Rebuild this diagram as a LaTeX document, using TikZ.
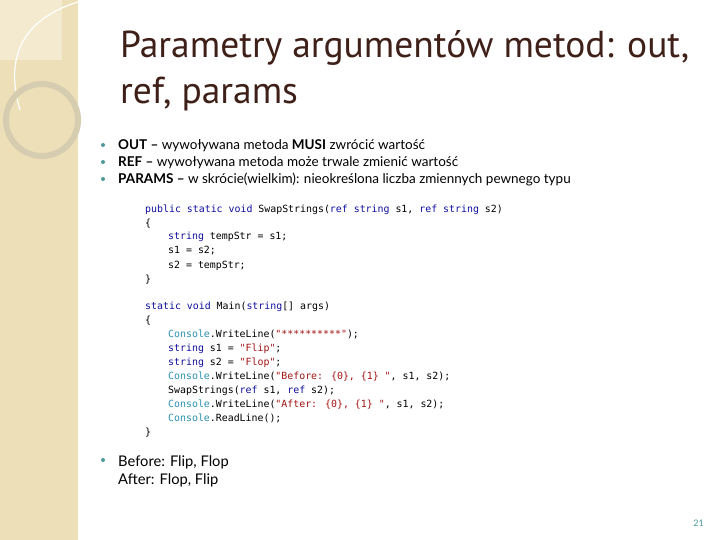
\documentclass[tikz,border=0pt]{standalone}
\usepackage{fontspec}
\setmainfont{Lato}
\newfontfamily\codefont{DejaVu Sans Mono}
\newfontfamily\titlefont{PT Sans}
\definecolor{strip}{HTML}{EDDFB8}
\definecolor{stripl}{HTML}{F4EAD0}
\definecolor{ring}{HTML}{D6CCB0}
\definecolor{titlec}{HTML}{3F2019}
\definecolor{kw}{HTML}{1010A0}
\definecolor{strc}{HTML}{A31515}
\definecolor{cls}{HTML}{2B91AF}
\definecolor{bul}{HTML}{4F9A9A}
\begin{document}
\begin{tikzpicture}[x=1pt,y=-1pt,
  codeline/.style={anchor=base west,inner sep=0pt,font=\codefont\fontsize{9.9}{11}\selectfont},
  bulline/.style={anchor=base west,inner sep=0pt,font=\fontsize{13.5}{15}\selectfont},
  dot/.style={circle,fill=bul,inner sep=0pt,minimum size=4pt}]
\useasboundingbox (0,0) rectangle (720,540);
\fill[white] (0,0) rectangle (720,540);
\fill[strip] (0,0) rectangle (78,540);
\fill[stripl] (0,0) rectangle (62,60);
\draw[white,line width=1.2pt] (78,2) .. controls (20,20) and (5,60) .. (20,110);
\draw[ring,line width=6pt] (42,120) circle (36);
\node[anchor=base west,inner sep=0pt,text=titlec,font=\titlefont\fontsize{37.5}{48}\selectfont] (t1) at (120,58) {Parametry argumentów metod: out,};
\node[anchor=base west,inner sep=0pt,text=titlec,font=\titlefont\fontsize{37.5}{48}\selectfont] (t2) at (120,104) {ref, params};
\node[dot] (d1) at (103,145) {};
\node[dot] (d2) at (103,162) {};
\node[dot] (d3) at (103,179) {};
\node[bulline] (b1) at (118,150) {\textbf{OUT –} wywoływana metoda \textbf{MUSI} zwrócić wartość};
\node[bulline] (b2) at (118,167) {\textbf{REF –} wywoływana metoda może trwale zmienić wartość};
\node[bulline] (b3) at (118,184) {\textbf{PARAMS –} w skrócie(wielkim): nieokreślona liczba zmiennych pewnego typu};
\node[codeline] (c1) at (145,212) {\textcolor{kw}{public static void} SwapStrings(\textcolor{kw}{ref string} s1, \textcolor{kw}{ref string} s2)};
\node[codeline] (c2) at (145,226) {\{};
\node[codeline] (c3) at (168,240) {\textcolor{kw}{string} tempStr = s1;};
\node[codeline] (c4) at (168,254) {s1 = s2;};
\node[codeline] (c5) at (168,268) {s2 = tempStr;};
\node[codeline] (c6) at (145,282) {\}};
\node[codeline] (c7) at (145,309) {\textcolor{kw}{static void} Main(\textcolor{kw}{string}[] args)};
\node[codeline] (c8) at (145,323) {\{};
\node[codeline] (c9) at (168,337) {\textcolor{cls}{Console}.WriteLine(\textcolor{strc}{"**********"});};
\node[codeline] (c10) at (168,351) {\textcolor{kw}{string} s1 = \textcolor{strc}{"Flip"};};
\node[codeline] (c11) at (168,365) {\textcolor{kw}{string} s2 = \textcolor{strc}{"Flop"};};
\node[codeline] (c12) at (168,379) {\textcolor{cls}{Console}.WriteLine(\textcolor{strc}{"Before: \{0\}, \{1\} "}, s1, s2);};
\node[codeline] (c13) at (168,393) {SwapStrings(\textcolor{kw}{ref} s1, \textcolor{kw}{ref} s2);};
\node[codeline] (c14) at (168,407) {\textcolor{cls}{Console}.WriteLine(\textcolor{strc}{"After: \{0\}, \{1\} "}, s1, s2);};
\node[codeline] (c15) at (168,421) {\textcolor{cls}{Console}.ReadLine();};
\node[codeline] (c16) at (145,435) {\}};
\node[dot] (d4) at (103,460) {};
\node[anchor=base west,inner sep=0pt,font=\fontsize{14.7}{17}\selectfont] (a1) at (118,466) {Before: Flip, Flop};
\node[anchor=base west,inner sep=0pt,font=\fontsize{14.7}{17}\selectfont] (a2) at (118,484) {After: Flop, Flip};
\node[anchor=base east,inner sep=0pt,text=bul,font=\fontsize{9}{10}\selectfont] (pg) at (704,526) {21};
\end{tikzpicture}
\end{document}
